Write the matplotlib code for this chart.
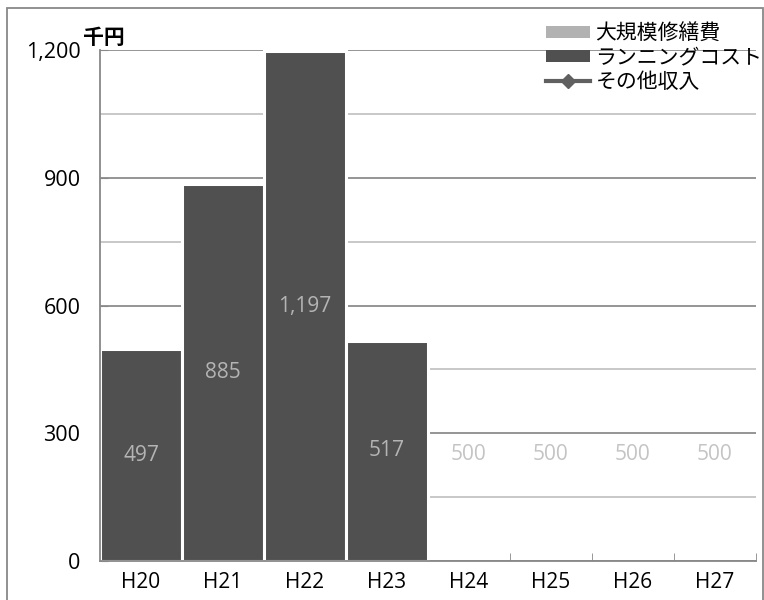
import numpy as np
import matplotlib.pyplot as plt
from matplotlib.patches import Patch, Rectangle
from matplotlib.lines import Line2D

plt.rcParams['font.family'] = ['Open Sans', 'Noto Sans CJK JP', 'DejaVu Sans']

# Data
years = ['H20', 'H21', 'H22', 'H23', 'H24', 'H25', 'H26', 'H27']
running_cost = [497, 885, 1197, 517]          # actual values, drawn as dark bars
planned_cost = [500, 500, 500, 500]           # H24-H27, no fill, label only
series_names = ['大規模修繕費', 'ランニングコスト', 'その他収入']

dark = '#505050'
light = '#b2b2b2'
label_col = '#b4b4b4'

fig = plt.figure(figsize=(7.64, 6), dpi=100)
ax = fig.add_axes([100 / 764, 1 - 561 / 600, 656 / 764, 511 / 600])

x = np.arange(len(years))
n = len(running_cost)

b1 = ax.bar(x[:n], running_cost, width=1.0, color=dark, edgecolor='white',
            linewidth=2.2, zorder=2)
b2 = ax.bar(x[n:], planned_cost, width=1.0, fill=False, linewidth=0, zorder=2)

ax.bar_label(b1, labels=[f'{v:,}' for v in running_cost], label_type='center',
             color=label_col, fontsize=15)
ax.bar_label(b2, labels=[f'{v:,}' for v in planned_cost], label_type='center',
             color='#c4c4c4', fontsize=15)

ax.set_xlim(-0.5, len(years) - 0.5)
ax.set_ylim(0, 1200)

# y axis
ax.set_yticks([0, 300, 600, 900, 1200])
ax.set_yticklabels([f'{v:,}' for v in [0, 300, 600, 900, 1200]], fontsize=15.5)
ax.set_yticks([150, 450, 750, 1050], minor=True)
ax.tick_params(axis='y', which='major', direction='in', length=6, color='#888888', pad=14)
ax.tick_params(axis='y', which='minor', length=0)
ax.grid(axis='y', which='major', color='#8c8c8c', linewidth=1.3, zorder=0)
ax.grid(axis='y', which='minor', color='#c4c4c4', linewidth=1.3, zorder=0)

# x axis
ax.set_xticks(x)
ax.set_xticklabels(years, fontsize=15)
ax.set_xticks(np.arange(-0.5, len(years)), minor=True)
ax.tick_params(axis='x', which='major', length=0, pad=8)
ax.tick_params(axis='x', which='minor', direction='in', length=6, color='#888888')

for s in ['top', 'right']:
    ax.spines[s].set_visible(False)
for s in ['left', 'bottom']:
    ax.spines[s].set_color('#888888')
    ax.spines[s].set_linewidth(1.3)
ax.set_axisbelow(True)

fig.text(83 / 764, 1 - 44 / 600, '千円', fontsize=15, fontweight='bold',
         family=['Noto Sans CJK JP'])

handles = [
    Patch(facecolor=light, edgecolor='none'),
    Patch(facecolor=dark, edgecolor='none'),
    Line2D([], [], color='#606060', linewidth=3, marker='D', markersize=7),
]
fig.legend(handles, series_names, loc='upper left', bbox_to_anchor=(536 / 764, 1 - 12 / 600),
           frameon=False, handlelength=2.1, handleheight=0.55,
           handletextpad=0.25, labelspacing=0.1, borderpad=0,
           prop={'family': ['Noto Sans CJK JP'], 'size': 15})

# outer frame
fig.patches.append(Rectangle((7 / 764, -0.1), 756 / 764, 1.1 - 8 / 600,
                             transform=fig.transFigure, fill=False,
                             edgecolor='#888888', linewidth=1.3))

fig.savefig('out.png', dpi=100)
